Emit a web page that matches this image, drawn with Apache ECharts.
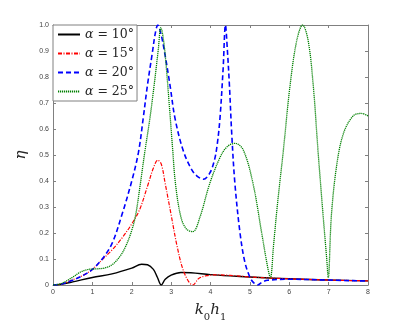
<!DOCTYPE html>
<html>
<head>
<meta charset="utf-8">
<script src="https://cdn.jsdelivr.net/npm/echarts@6/dist/echarts.min.js"></script>
<style>
html,body{margin:0;padding:0;background:#fff;}
#chart{width:407px;height:327px;}
</style>
</head>
<body>
<div id="chart"></div>
<script>
// k0*h1 sample positions and efficiency eta for each incidence angle
var x10 = [0, 0.2, 0.5, 1.0, 1.5, 2.0, 2.25, 2.4, 2.55, 2.65, 2.75, 2.85, 3.0, 3.25, 3.5, 4.0, 4.5, 5.0, 5.5, 6.0, 7.0, 8.0];
var y10 = [0, 0.003, 0.012, 0.029, 0.043, 0.065, 0.08, 0.078, 0.06, 0.03, 0.0, 0.022, 0.038, 0.048, 0.047, 0.04, 0.035, 0.031, 0.027, 0.024, 0.019, 0.016];

var x15 = [0, 0.2, 0.5, 0.8, 1.0, 1.2, 1.5, 1.75, 2.0, 2.2, 2.4, 2.55, 2.66, 2.75, 2.85, 3.0, 3.15, 3.3, 3.45, 3.55, 3.7, 3.9, 4.2, 4.5, 5.0, 5.5, 6.0, 7.0, 8.0];
var y15 = [0, 0.003, 0.02, 0.04, 0.06, 0.09, 0.135, 0.18, 0.235, 0.29, 0.38, 0.45, 0.48, 0.465, 0.39, 0.27, 0.15, 0.06, 0.012, 0.0, 0.025, 0.036, 0.039, 0.037, 0.031, 0.027, 0.024, 0.019, 0.016];

var x20 = [0, 0.2, 0.5, 0.8, 1.0, 1.25, 1.5, 1.75, 2.0, 2.17, 2.29, 2.4, 2.52, 2.6, 2.66, 2.75, 2.84, 2.97, 3.1, 3.3, 3.5, 3.65, 3.82, 3.98, 4.1, 4.17, 4.24, 4.32, 4.38, 4.43, 4.48, 4.54, 4.62, 4.75, 4.87, 5.0, 5.1, 5.2, 5.3, 5.45, 6.0, 7.0, 8.0];
var y20 = [0, 0.003, 0.018, 0.04, 0.06, 0.1, 0.16, 0.27, 0.4, 0.51, 0.64, 0.77, 0.89, 0.97, 1.0, 0.96, 0.89, 0.77, 0.64, 0.52, 0.45, 0.42, 0.407, 0.43, 0.48, 0.54, 0.64, 0.83, 1.0, 0.9, 0.77, 0.58, 0.39, 0.2, 0.09, 0.03, 0.008, 0.0, 0.01, 0.018, 0.022, 0.019, 0.015];

var x25 = [0, 0.2, 0.5, 0.7, 0.9, 1.1, 1.3, 1.5, 1.7, 1.85, 2.0, 2.1, 2.21, 2.33, 2.46, 2.57, 2.67, 2.74, 2.8, 2.87, 2.97, 3.04, 3.11, 3.25, 3.39, 3.55, 3.73, 3.98, 4.24, 4.41, 4.62, 4.83, 5.08, 5.3, 5.45, 5.52, 5.6, 5.68, 5.75, 5.85, 6.02, 6.19, 6.34, 6.48, 6.61, 6.73, 6.86, 6.95, 6.99, 7.07, 7.2, 7.37, 7.62, 7.83, 8.0];
var y25 = [0, 0.005, 0.03, 0.05, 0.06, 0.062, 0.065, 0.078, 0.11, 0.15, 0.21, 0.27, 0.38, 0.51, 0.64, 0.77, 0.9, 0.99, 0.95, 0.85, 0.66, 0.52, 0.39, 0.26, 0.215, 0.205, 0.26, 0.39, 0.49, 0.53, 0.545, 0.52, 0.39, 0.2, 0.07, 0.028, 0.15, 0.28, 0.38, 0.517, 0.767, 0.94, 1.0, 0.94, 0.767, 0.517, 0.267, 0.104, 0.028, 0.267, 0.455, 0.58, 0.65, 0.66, 0.65];

var legendNames = ['{a|α} = 10°', '{a|α} = 15°', '{a|α} = 20°', '{a|α} = 25°'];

function pairs(xs, ys) {
	var out = [];
	for (var i = 0; i < xs.length; i++) out.push([xs[i], ys[i]]);
	return out;
}

var axisColor = '#808080';
var labelFont = {color: '#444', fontSize: 7, fontFamily: 'Liberation Sans'};

function boxAxis(pos, min, max, interval, labels) {
	return {
		type: 'value', position: pos, min: min, max: max, interval: interval,
		axisLine: {show: true, onZero: false, lineStyle: {color: axisColor, width: 1}},
		axisTick: {show: true, inside: true, length: 3, lineStyle: {color: axisColor}},
		splitLine: {show: false},
		axisLabel: labels ? Object.assign({show: true, margin: 4}, labelFont) : {show: false}
	};
}

var chart = echarts.init(document.getElementById('chart'));

var xMain = boxAxis('bottom', 0, 8, 1, true);
xMain.name = '{i|k}{s|0}{i|h}{s|1}';
xMain.nameLocation = 'middle';
xMain.nameGap = 18;
xMain.nameTextStyle = {
	rich: {
		i: {fontFamily: 'DejaVu Serif', fontStyle: 'italic', fontSize: 15, color: '#262626', verticalAlign: 'bottom'},
		s: {fontFamily: 'DejaVu Serif', fontSize: 10, color: '#262626', verticalAlign: 'bottom', padding: [0, 0, -4, 0]}
	}
};
var yMain = boxAxis('left', 0, 1, 0.1, true);
yMain.axisLabel.formatter = function (v) { return v === 0 ? '0' : v.toFixed(1); };
yMain.name = 'η';
yMain.nameLocation = 'middle';
yMain.nameGap = 18;
yMain.nameTextStyle = {fontFamily: 'DejaVu Serif', fontStyle: 'italic', fontSize: 15, color: '#262626'};

var seriesDefs = [
	{x: x10, y: y10, color: '#000000', type: 'solid', width: 1.4},
	{x: x15, y: y15, color: '#ff0000', type: [4, 1.5, 1, 1.5], width: 1.2},
	{x: x20, y: y20, color: '#0000ff', type: [5, 3], width: 1.6},
	{x: x25, y: y25, color: '#008000', type: [1.2, 0.8], width: 1.3}
];

chart.setOption({
	animation: false,
	backgroundColor: '#fff',
	grid: {left: 53, right: 39, top: 25, bottom: 36},
	legend: {
		orient: 'vertical', left: 53, top: 25,
		backgroundColor: '#fff', borderColor: axisColor, borderWidth: 1,
		padding: [3, 3, 3, 4], itemWidth: 22, itemHeight: 11, itemGap: 6,
		itemStyle: {opacity: 0},
		textStyle: {fontFamily: 'DejaVu Serif', fontSize: 12.5, color: '#262626',
			rich: {a: {fontFamily: 'DejaVu Serif', fontStyle: 'italic', fontSize: 12.5, color: '#262626'}}},
		data: legendNames
	},
	xAxis: [xMain, boxAxis('top', 0, 8, 1, false)],
	yAxis: [yMain, boxAxis('right', 0, 1, 0.1, false)],
	series: seriesDefs.map(function (s, i) {
		return {
			name: legendNames[i], type: 'line', symbol: 'none', smooth: 0.35,
			clip: true, z: 2 + i,
			lineStyle: {color: s.color, type: s.type, width: s.width},
			itemStyle: {color: s.color},
			data: pairs(s.x, s.y)
		};
	})
});
</script>
</body>
</html>
